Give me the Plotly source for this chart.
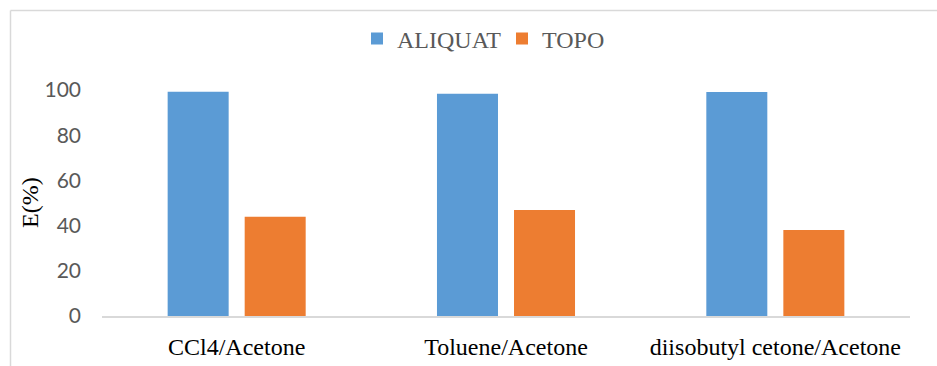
import plotly.graph_objects as go

# Extraction efficiency by solvent system
categories = ["CCl4/Acetone", "Toluene/Acetone", "diisobutyl cetone/Acetone"]
aliquat = [99.2, 98.3, 99.1]
topo = [43.9, 46.9, 38.0]
y_ticks = [0, 20, 40, 60, 80, 100]

W, H = 937, 366
ML, MR, MT, MB = 102, 27, 90, 50
PW, PH = W - ML - MR, H - MT - MB


def px_x(x):
    return (x - ML) / PW


def px_y(y):
    return (H - MB - y) / PH


serif = "Liberation Serif, Times New Roman, serif"
sans = "Lato, Calibri, sans-serif"

fig = go.Figure()
fig.add_trace(go.Bar(name="ALIQUAT", x=categories, y=aliquat,
                     marker=dict(color="#5B9BD5", line=dict(width=0))))
fig.add_trace(go.Bar(name="TOPO", x=categories, y=topo,
                     marker=dict(color="#ED7D31", line=dict(width=0))))

fig.update_layout(
    width=W, height=H,
    margin=dict(l=ML, r=MR, t=MT, b=MB, pad=0, autoexpand=False),
    paper_bgcolor="white", plot_bgcolor="white",
    barmode="group", bargap=0.428, bargroupgap=0.208,
    showlegend=True,
    legend=dict(orientation="h", x=px_x(357), xanchor="left",
                y=px_y(39), yanchor="middle",
                font=dict(family=serif, size=24, color="#595959"),
                itemwidth=30, entrywidth=100, entrywidthmode="pixels",
                traceorder="normal", bgcolor="rgba(0,0,0,0)"),
    xaxis=dict(showgrid=False, zeroline=False, showline=True,
               linecolor="#d9d9d9", linewidth=1.5, ticks="",
               tickfont=dict(family=serif, size=24, color="black"),
               ticklabelstandoff=8, automargin=False),
    yaxis=dict(range=[0, 100], tickvals=y_ticks, showgrid=False,
               zeroline=False, showline=False, ticks="",
               tickfont=dict(family=sans, size=21, color="#595959"),
               ticklabelstandoff=20, automargin=False),
    annotations=[dict(text="E(%)", textangle=-90, x=px_x(30), y=0.5,
                      xref="paper", yref="paper", showarrow=False,
                      xanchor="center", yanchor="middle",
                      font=dict(family=serif, size=24, color="black"))],
    shapes=[
        dict(type="line", xref="paper", yref="paper",
             x0=px_x(10.5), x1=px_x(W + 5), y0=px_y(10.5), y1=px_y(10.5),
             line=dict(color="#d9d9d9", width=1.5)),
        dict(type="line", xref="paper", yref="paper",
             x0=px_x(10.5), x1=px_x(10.5), y0=px_y(10.5), y1=px_y(H + 5),
             line=dict(color="#d9d9d9", width=1.5)),
    ],
)

fig.write_html("out.html")
